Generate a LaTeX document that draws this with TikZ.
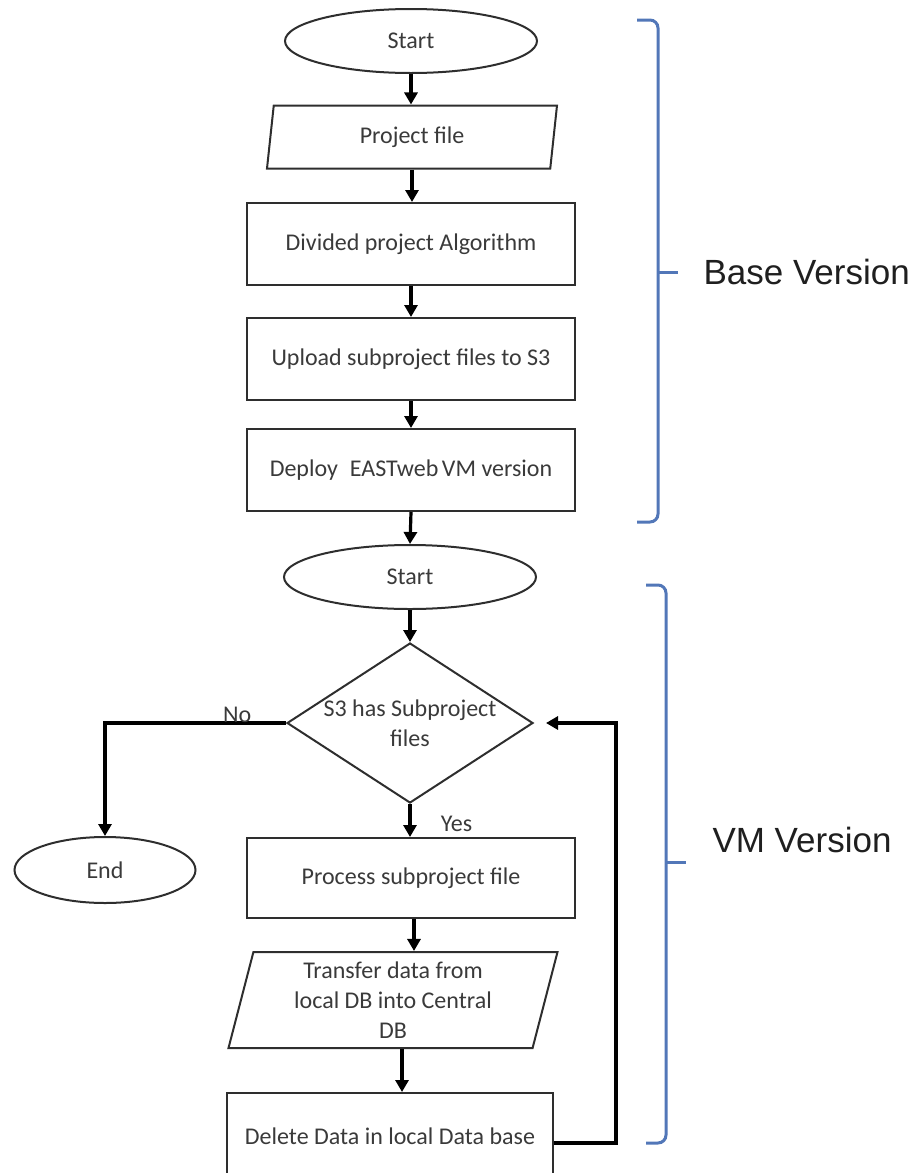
\documentclass[tikz,border=0pt]{standalone}
\usepackage{fontspec}
\setmainfont{Carlito}
\newfontfamily\sidefont{Liberation Sans}
\usetikzlibrary{shapes.geometric,arrows.meta}

\definecolor{boxline}{HTML}{2E2E2E}
\definecolor{boxtext}{HTML}{3A3A3A}
\definecolor{bracecol}{HTML}{5277B8}

\begin{document}
\begin{tikzpicture}[x=1pt,y=-1pt,
  every node/.style={font=\fontsize{24}{30}\selectfont, text=boxtext},
  shapeline/.style={draw=boxline, line width=2pt, inner sep=0pt},
  terminal/.style={shapeline, ellipse, minimum width=252pt, minimum height=64pt},
  process/.style={shapeline, rectangle, minimum width=328pt, minimum height=82pt},
  io/.style={shapeline, trapezium, trapezium left angle=72, trapezium right angle=108,
    trapezium stretches body, align=center},
  decision/.style={shapeline, diamond, minimum width=246pt, minimum height=160pt, align=center},
  flow/.style={draw=black, line width=3.2pt, -{Triangle[length=12pt,width=13pt]}},
  brace/.style={draw=bracecol, line width=3pt, rounded corners=8pt},
  sidelabel/.style={font=\sidefont\fontsize{35}{40}\selectfont, text=black!88, anchor=west}
]
\useasboundingbox (0,0) rectangle (916,1173);

% ---- base version ----
\node[terminal] (s1) at (411,41) {Start};
\node[io, minimum width=290pt, minimum height=63pt] (pf) at (412,137) {Project file};
\node[process] (div) at (411,244) {Divided project Algorithm};
\node[process] (up) at (411,359) {Upload subproject files to S3};
\node[process] (dep) at (411,470) {Deploy\hspace{0.5em}EASTweb\hspace{0.15em}VM version};

% ---- VM version ----
\node[terminal] (s2) at (410,577) {Start};
% zero-width lines so the diamond keeps its own size
\node[decision] (dec) at (410,723)
  {\makebox[0pt]{S3 has Subproject}\\\makebox[0pt]{files}};
\node[terminal, minimum width=181pt, minimum height=66pt] (end) at (105,870) {End};
\node[process, minimum height=80pt] (proc) at (411,878) {Process subproject file};
\node[io, minimum width=329pt, minimum height=96pt] (tr) at (393,1000)
  {Transfer data from\\local DB into Central\\DB};
\node[process, minimum width=326pt, minimum height=86pt] (del) at (390,1136)
  {Delete Data in local Data base};

% ---- connectors ----
\draw[flow] (s1.south) -- (s1.south |- pf.north);
\draw[flow] (pf.south) -- (pf.south |- div.north);
\draw[flow] (div.south) -- (up.north);
\draw[flow] (up.south) -- (dep.north);
\draw[flow] (dep.south) -- (s2.north);
\draw[flow] (s2.south) -- (dec.north);
\draw[flow] (dec.south) -- node[pos=0.6, anchor=west, xshift=26pt] {Yes} (dec.south |- proc.north);
\draw[flow] (dec.west) -- node[pos=0.27, anchor=south, yshift=-5pt] {No} (dec.west -| end.north) -- (end.north);
\draw[flow] ([xshift=3pt]proc.south) -- ([xshift=3pt]proc.south |- tr.north);
\draw[flow] ([xshift=9pt]tr.south) -- ([xshift=9pt]tr.south |- del.north);
\draw[flow] ([yshift=-7pt]del.east) -- ++(62,0) |- ([xshift=12pt]dec.east);

% ---- side braces ----
\draw[brace] (637,20) -- (658,20) -- (658,522) -- (637,522);
\draw[bracecol, line width=3pt] (658,272) -- (678,272);
\node[sidelabel] (basev) at (700,272) {Base Version};

\draw[brace] (646,585) -- (666,585) -- (666,1143) -- (646,1143);
\draw[bracecol, line width=3pt] (666,862) -- (686,862);
\node[sidelabel] (vmv) at (709,840) {VM Version};
\end{tikzpicture}
\end{document}
